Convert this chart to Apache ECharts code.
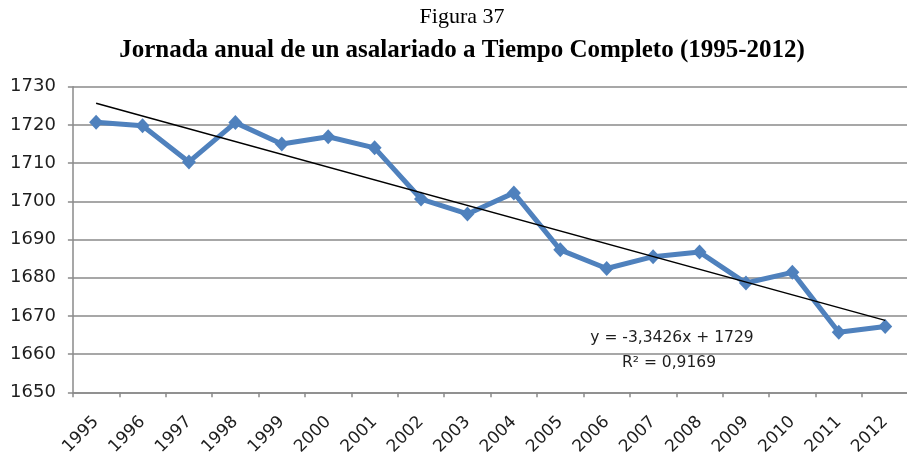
<!DOCTYPE html>
<html>
<head>
<meta charset="utf-8">
<script src="https://cdn.jsdelivr.net/npm/echarts@6/dist/echarts.min.js"></script>
<style>
  html, body { margin: 0; padding: 0; background: #ffffff; }
  #chart { width: 907px; height: 453px; }
</style>
</head>
<body>
<div id="chart"></div>
<script>
// Annual working hours of a full-time employee, 1995-2012
const years = ['1995', '1996', '1997', '1998', '1999', '2000', '2001', '2002', '2003',
               '2004', '2005', '2006', '2007', '2008', '2009', '2010', '2011', '2012'];
const hours = [1720.7, 1719.8, 1710.3, 1720.6, 1715.0, 1716.9, 1714.0, 1700.6, 1696.7,
               1702.2, 1687.3, 1682.4, 1685.5, 1686.7, 1678.6, 1681.4, 1665.7, 1667.2];

// Value axis range and step
const yMin = 1650;
const yMax = 1730;
const yStep = 10;

// Linear trend as printed on the chart (x = 1 for the first year)
const trendSlope = -3.3426;
const trendIntercept = 1729;
const trendLabels = ['y = -3,3426x + 1729', 'R\u00B2 = 0,9169'];

const titleLines = ['Figura 37', 'Jornada anual de un asalariado a Tiempo Completo (1995-2012)'];

const n = years.length;
const trendData = [
  [years[0], trendIntercept + trendSlope * 1],
  [years[n - 1], trendIntercept + trendSlope * n]
];

const gridColor = '#8a8a8a';
const textColor = '#1e1e1e';
const axisFont = 'DejaVu Sans';

const chart = echarts.init(document.getElementById('chart'), null, { renderer: 'canvas' });

chart.setOption({
  animation: false,
  backgroundColor: '#ffffff',
  grid: {
    left: 72.9, top: 86.7, width: 835.5, height: 305.6,
    containLabel: false, outerBoundsMode: 'none'
  },
  xAxis: {
    type: 'category',
    data: years,
    boundaryGap: true,
    axisLine: { show: true, lineStyle: { color: gridColor, width: 1.5 } },
    axisTick: { show: true, interval: 0, length: 5, lineStyle: { color: gridColor, width: 1.5 } },
    axisLabel: {
      interval: 0, rotate: 45, margin: 27,
      color: textColor, fontFamily: axisFont, fontSize: 17
    },
    splitLine: { show: false }
  },
  yAxis: {
    type: 'value',
    min: yMin, max: yMax, interval: yStep,
    axisLine: { show: true, lineStyle: { color: gridColor, width: 1.5 } },
    axisTick: { show: true, length: 5, lineStyle: { color: gridColor, width: 1.5 } },
    axisLabel: {
      margin: 17, color: textColor, fontFamily: axisFont, fontSize: 18,
      formatter: function (v) { return String(v); }
    },
    splitLine: { show: true, lineStyle: { color: gridColor, width: 1.5 } }
  },
  series: [
    {
      name: 'Jornada anual',
      type: 'line',
      data: hours,
      symbol: 'diamond',
      symbolSize: [14, 15],
      lineStyle: { color: '#4F81BD', width: 5 },
      itemStyle: { color: '#4F81BD' },
      z: 2
    },
    {
      name: 'Tendencia lineal',
      type: 'line',
      data: trendData,
      symbol: 'none',
      lineStyle: { color: '#000000', width: 1.5 },
      z: 3
    }
  ],
  graphic: [
    {
      type: 'text', x: 462, y: 17,
      style: { text: titleLines[0], fill: '#000', font: '22px "Liberation Serif"',
               textAlign: 'center', textVerticalAlign: 'middle' }
    },
    {
      type: 'text', x: 462, y: 51,
      style: { text: titleLines[1], fill: '#000', font: 'bold 25px "Liberation Serif"',
               textAlign: 'center', textVerticalAlign: 'middle' }
    },
    {
      type: 'text', x: 672, y: 338,
      style: { text: trendLabels[0], fill: textColor, font: '15.5px "DejaVu Sans"',
               textAlign: 'center', textVerticalAlign: 'middle' }
    },
    {
      type: 'text', x: 669, y: 363,
      style: { text: trendLabels[1], fill: textColor, font: '15.5px "DejaVu Sans"',
               textAlign: 'center', textVerticalAlign: 'middle' }
    }
  ]
});
</script>
</body>
</html>
